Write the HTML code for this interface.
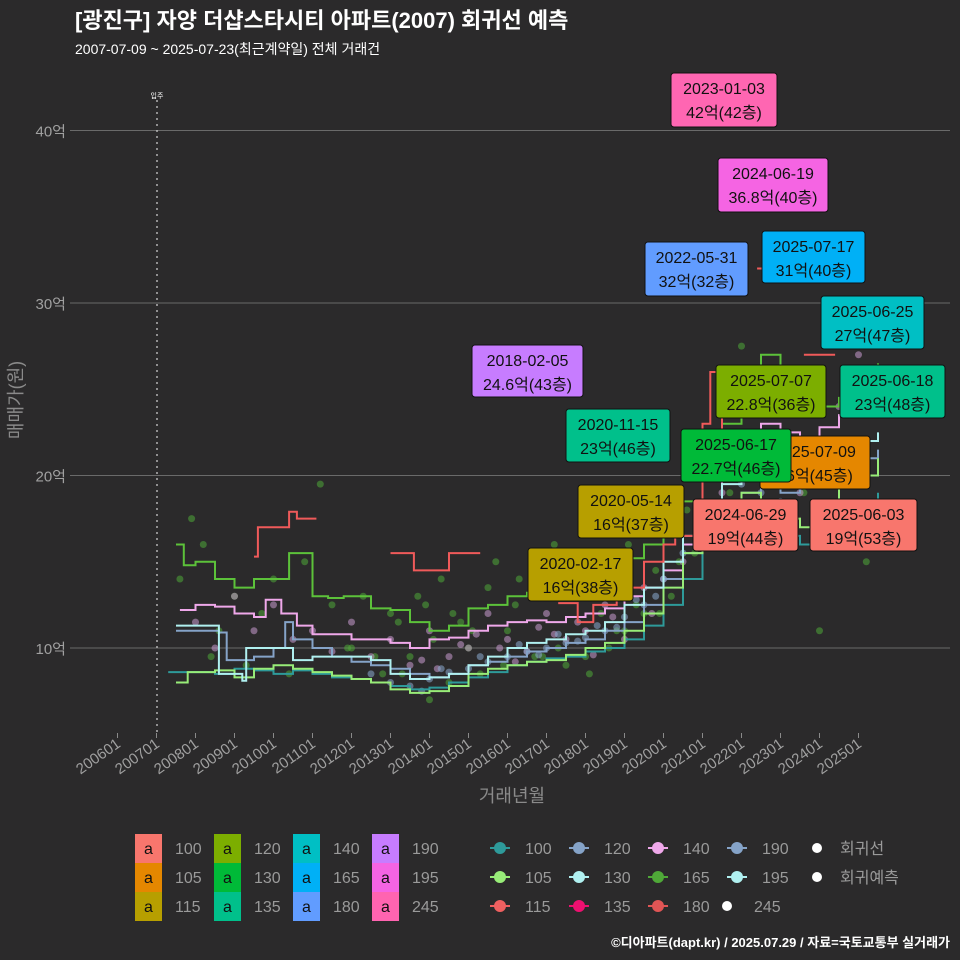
<!DOCTYPE html>
<html><head><meta charset="utf-8">
<style>
html,body{margin:0;padding:0;background:#2b2a2b;}
svg{display:block;font-family:"Liberation Sans","Noto Sans CJK KR",sans-serif;}
</style></head>
<body>
<svg id="chart" width="960" height="960" viewBox="0 0 960 960" xmlns="http://www.w3.org/2000/svg">
<rect x="0" y="0" width="960" height="960" fill="#2b2a2b"/>
<text x="75" y="28" fill="#ffffff" font-size="22" font-weight="bold">[광진구] 자양 더샵스타시티 아파트(2007) 회귀선 예측</text>
<text x="75" y="54" fill="#ffffff" font-size="14">2007-07-09 ~ 2025-07-23(최근계약일) 전체 거래건</text>
<g id="grid"></g>
<g id="axes"></g>
<g id="points"></g>
<g id="lines"></g>
<g id="labels"></g>
<text transform="translate(22,400) rotate(-90)" text-anchor="middle" fill="#8a8a8a" font-size="18">매매가(원)</text>
<text x="512" y="802" text-anchor="middle" fill="#8a8a8a" font-size="18">거래년월</text>
<g id="legend"></g>
<text x="950" y="947" text-anchor="end" fill="#ffffff" font-size="13" font-weight="bold">©디아파트(dapt.kr) / 2025.07.29 / 자료=국토교통부 실거래가</text>
</svg>
<script>
const yTicks=[10,20,30,40];
const yTickLabels=["10억","20억","30억","40억"];
const xTickYears=[2006,2007,2008,2009,2010,2011,2012,2013,2014,2015,2016,2017,2018,2019,2020,2021,2022,2023,2024,2025];
const xTickLabels=["200601","200701","200801","200901","201001","201101","201201","201301","201401","201501","201601","201701","201801","201901","202001","202101","202201","202301","202401","202501"];
const s165Years=[2007.5,2007.7,2008,2008.5,2009,2009.5,2010,2010.4,2010.7,2011,2011.4,2011.8,2012.5,2013,2013.5,2014,2014.5,2015,2015.5,2016,2016.5,2017,2017.5,2018,2018.5,2019,2019.5,2020,2020.5,2021,2021.5,2022,2022.5,2023,2023.5,2024,2024.5,2025,2025.5];
const s165Vals=[16,14.8,15,14,13.5,14,14,15.5,15.5,13,12.9,13,12.3,12.2,11.5,11,11.3,12.3,12.5,13,13.2,13.5,14,14.3,14.5,15.2,16,17,18.5,21,23,25,27,26,24,24,24.5,26,26.5];
const s140Years=[2007.6,2008,2008.5,2009,2009.5,2009.8,2010.2,2010.6,2011,2011.5,2012,2012.5,2013,2013.5,2014,2014.5,2015,2015.5,2016,2016.5,2017,2017.5,2018,2018.5,2019,2019.5,2020,2020.5,2021,2021.5,2022,2022.5,2023,2023.5,2024,2024.5,2025,2025.5];
const s140Vals=[12.2,12.5,12.4,12,11.8,12.8,12,11.3,10.8,10.8,10.5,10.5,10.3,10,10.5,10.6,11,11.3,11.5,11.6,11.5,11.8,12,12.3,13,13.5,14.5,16,18.5,20.5,22,23,22.5,22,22.8,23.5,25,26];
const s130Years=[2007.5,2008.5,2008.6,2009.2,2009.3,2009.5,2010,2010.5,2011,2011.5,2012,2012.5,2013,2013.5,2014,2014.5,2015,2015.5,2016,2016.5,2017,2017.5,2018,2018.5,2019,2019.5,2020,2020.5,2021,2021.5,2022,2022.5,2023,2023.5,2024,2024.5,2025,2025.5];
const s130Vals=[11.3,11.3,8.5,8.1,10,10,10,9.3,9.5,9.5,9.5,9.3,8.5,8.2,8.3,8.5,9,9.5,10,10.3,10.5,10.8,11,11.5,12.5,13.5,15,16.5,18,19.5,20,19.5,20,19.5,20.5,21,22,22.5];
const s120Years=[2007.5,2008.6,2008.8,2009.5,2010,2010.3,2010.5,2011,2011.5,2012,2012.5,2013,2013.5,2014,2014.5,2015,2015.5,2016,2016.5,2017,2017.5,2018,2018.5,2019,2019.5,2020,2020.5,2021,2021.5,2022,2022.5,2023,2023.5,2024,2024.5,2025,2025.5];
const s120Vals=[11,10.9,9.3,9.5,10,11.5,10.5,10,9.5,9.2,9,8.8,8.5,8.3,8.5,9,9.2,9.5,9.8,10,10.3,10.5,11,11.5,12.5,14,15.5,17,18,19,19.5,19,19.3,20,20.5,21,21.5];
const s105Years=[2007.5,2007.8,2008.5,2009,2009.5,2010,2010.5,2011,2011.5,2012,2012.5,2013,2013.5,2014,2014.5,2015,2015.5,2016,2016.5,2017,2017.5,2018,2018.5,2019,2019.5,2020,2020.5,2021,2021.5,2022,2022.5,2023,2023.5,2024,2024.5,2025,2025.5];
const s105Vals=[8,8.6,8.7,8.3,8.8,9,8.8,8.6,8.4,8.2,8,7.6,7.4,7.5,7.8,8.5,8.8,9,9.2,9.3,9.6,10,10.3,11,12,13.5,15.5,17,18.5,19,18,17.5,17,18.5,19.5,20,21];
const s100Years=[2007.3,2008,2008.5,2009,2009.5,2010,2010.5,2011,2011.5,2012,2012.5,2013,2013.5,2014,2014.5,2015,2015.5,2016,2016.5,2017,2017.5,2018,2018.5,2019,2019.5,2020,2020.5,2021,2021.5,2022,2022.5,2023,2023.5,2024,2024.5,2025,2025.5];
const s100Vals=[8.6,8.6,8.5,8.8,8.7,8.5,8.7,8.5,8.3,8.2,8,7.8,7.6,7.7,8,8.3,8.6,9,9.2,9.4,9.5,9.8,10,10.5,11.3,12.5,14,16,17,18,17.5,16.5,16,17,18,18.5,19];
const s115Years=[2009.5,2009.6,2009.7,2010.3,2010.4,2010.6,2011.1,null,2013,2013.4,2013.6,2014.2,2014.5,2015.3,null,2017.3,2017.8,2018.2,2018.8,2019.5,2020,2020.3,2020.8,2021,2021.2,2021.5,2021.8,2022.1,null,2022.4,2022.7,null,2023.6,2024.4];
const s115Vals=[15.3,17,17,17,17.9,17.5,17.5,null,15.5,15.5,14.5,14.5,15.5,15.5,null,12.6,11.5,12.5,13.5,15,16,16.5,17,23,26,21,21.5,22,null,32,32,null,27,27];
const ptsGreenYears=[2007.6,2007.9,2008.2,2008.4,2008.6,2009.0,2009.3,2009.7,2010.0,2010.4,2010.8,2011.2,2011.5,2011.9,2012.3,2012.6,2013.0,2013.3,2013.7,2014.0,2014.3,2014.6,2015.0,2015.3,2015.7,2016.0,2016.3,2016.7,2017.0,2017.3,2017.7,2018.0,2018.4,2018.8,2019.1,2019.5,2019.8,2020.2,2020.6,2021.0,2021.3,2021.7,2022.0,2022.4,2022.8,2023.2,2023.6,2024.0,2024.4,2024.8,2025.2,2014.1,2015.9,2017.2,2018.1,2019.3,2020.4,2013.2,2016.6,2012.0,2012.8,2013.5,2014.8,2015.5,2016.2,2017.5,2018.6,2019.0,2019.9,2020.8,2014.5,2015.1,2016.9,2018.9,2013.9];
const ptsGreenVals=[14,17.5,16,9.5,11,13,9,12,14,8.5,15,19.5,12.5,10,13,9.5,12,8.5,13,7,14,12,10,8.5,15,11,14,9.5,13,10,15,9.5,12,11,16,12,14.5,13,18,17,21,19,27.5,22,25,24,19,11,22,25,15,10.5,9,16,8.5,12.5,15,11.5,13,10,8.5,9.5,11.5,13.5,12.5,9,10,11,12,15.5,8,11,9.5,13,12.5];
const ptsPinkYears=[2008.0,2008.5,2009.0,2009.5,2010.0,2010.5,2011.0,2011.5,2012.0,2012.5,2013.0,2013.5,2014.0,2014.5,2015.0,2015.5,2016.0,2016.5,2017.0,2017.5,2018.0,2018.5,2019.0,2019.5,2020.0,2020.5,2021.0,2021.5,2022.0,2022.5,2023.0,2023.5,2024.0,2024.5,2025.0,2013.8,2015.2,2016.8,2018.2,2019.7,2014.8,2017.8,2016.2,2017.2,2018.7,2015.8,2014.2];
const ptsPinkVals=[11.5,10,13,11,12.5,10.5,11,9.8,11.5,9.5,10.5,9,11,9.5,10,12,10.5,9.8,12,10.5,11,12.5,10.5,13.5,14,15,17,19,22,21,20,19,22,24,27,9.3,10.8,11.2,9.6,12,10.2,11.5,9.2,10.8,11.8,10,8.8];
const ptsBlueYears=[2012.5,2013.0,2013.5,2014.0,2014.5,2015.0,2015.5,2016.0,2016.5,2017.0,2017.5,2018.0,2018.5,2019.0,2019.5,2020.0,2020.5,2021.0,2021.5,2022.0,2022.5,2023.0,2023.5,2024.0,2024.5,2013.8,2014.3,2015.3,2016.3,2017.3,2018.3,2019.3,2016.8,2017.8,2018.8,2019.8];
const ptsBlueVals=[8.5,8,7.8,8.2,8.6,8.8,9.2,9.5,9.8,10,10.3,10.6,11,11.8,12.5,14,15.5,17,18,19.5,19,18.5,19.5,20,21,7.5,8.8,9.5,10.2,10.8,11.3,12.8,9.6,10.4,11.2,13];

const X=y=>117.5+39*(y-2006);
const Y=v=>820.5-17.25*v;
const NS="http://www.w3.org/2000/svg";
function mk(tag,attrs,parent){const e=document.createElementNS(NS,tag);for(const k in attrs)e.setAttribute(k,attrs[k]);parent.appendChild(e);return e;}
const grid=document.getElementById('grid'),axes=document.getElementById('axes');
yTicks.forEach((t,i)=>{
  const l=mk('line',{x1:70,x2:950,y1:Y(t),y2:Y(t),stroke:'#6a6a6a','stroke-width':1},grid);
  
  
  const tx=mk('text',{x:66,y:Y(t)+6,'text-anchor':'end',fill:'#a0a0a0','font-size':15},axes);
  tx.textContent=yTickLabels[i];
  
  
});
xTickYears.forEach((t,i)=>{
  const l=mk('line',{x1:X(t),x2:X(t),y1:733,y2:738,stroke:'#8a8a8a'},axes);
  
  
  const tx=mk('text',{transform:`translate(${X(t)+4},746) rotate(-35)`,'text-anchor':'end',fill:'#a0a0a0','font-size':15},axes);
  tx.textContent=xTickLabels[i];
  
  
});
const mv=mk('line',{x1:157,x2:157,y1:100,y2:735,stroke:'#c8c8c8','stroke-dasharray':'2,4','stroke-width':1.3},grid);


const mvt=mk('text',{x:157,y:98,'text-anchor':'middle',fill:'#ffffff','font-size':7},grid);
mvt.textContent='입주';



const pts=document.getElementById('points');
function scatter(ys,vs,col){ys.forEach((y,i)=>{const c=mk('circle',{cx:X(y),cy:Y(vs[i]),r:3.5,fill:col,'fill-opacity':0.55},pts);});}
scatter(ptsGreenYears,ptsGreenVals,'#4fa838');
scatter(ptsPinkYears,ptsPinkVals,'#c89ad0');
scatter(ptsBlueYears,ptsBlueVals,'#8aaad0');

const lines=document.getElementById('lines');
function stepLine(ys,vs,col,name){
  let d='',start=true;
  ys.forEach((y,i)=>{
    if(y===null){start=true;return;}
    if(start){d+=`M${X(y)},${Y(vs[i])}`;start=false;}
    else{d+=`H${X(y)}V${Y(vs[i])}`;}
  });
  const p=mk('path',{d:d,fill:'none',stroke:col,'stroke-width':2},lines);
  
  
}
stepLine(s165Years,s165Vals,'#5cc23a','line-165');
stepLine(s140Years,s140Vals,'#efa8ea','line-140');
stepLine(s100Years,s100Vals,'#2e9a9a','line-100');
stepLine(s120Years,s120Vals,'#85a3c8','line-120');
stepLine(s105Years,s105Vals,'#98ec78','line-105');
stepLine(s130Years,s130Vals,'#b0f0f0','line-130');
stepLine(s115Years,s115Vals,'#f05a5a','line-115');

const labelDates=["2023-01-03","2024-06-19","2022-05-31","2025-07-17","2025-06-25","2018-02-05","2025-07-07","2025-06-18","2020-11-15","2025-07-09","2025-06-17","2020-05-14","2024-06-29","2025-06-03","2020-02-17"];
const labelTexts=["42억(42층)","36.8억(40층)","32억(32층)","31억(40층)","27억(47층)","24.6억(43층)","22.8억(36층)","23억(48층)","23억(46층)","16억(45층)","22.7억(46층)","16억(37층)","19억(44층)","19억(53층)","16억(38층)"];
const labelBoxes=[[671,73,106,54,'#ff66b2'],[718,158,110,54,'#f564e3'],[645,242,103,54,'#619cff'],[762,231,103,52,'#00b0f6'],[821,296,103,53,'#00bfc4'],[472,345,111,52,'#c77cff'],[716,365,110,53,'#7cae00'],[840,365,105,53,'#00c08b'],[566,409,104,53,'#00c08b'],[760,436,110,53,'#e58700'],[681,429,110,53,'#00ba38'],[578,485,106,53,'#b79f00'],[693,499,105,52,'#f8766d'],[810,499,107,52,'#f8766d'],[528,548,105,53,'#b79f00']];
const lab=document.getElementById('labels');
labelBoxes.forEach((b,i)=>{
  const g=mk('g',{},lab);
  
  
  mk('rect',{x:b[0],y:b[1],width:b[2],height:b[3],rx:3,fill:b[4],stroke:'#111','stroke-width':1},g);
  const t1=mk('text',{x:b[0]+b[2]/2,y:b[1]+21,'text-anchor':'middle',fill:'#111','font-size':16},g);t1.textContent=labelDates[i];
  const t2=mk('text',{x:b[0]+b[2]/2,y:b[1]+45,'text-anchor':'middle',fill:'#111','font-size':16},g);t2.textContent=labelTexts[i];
});

const leg=document.getElementById('legend');
const fillNames=["100","105","115","120","130","135","140","165","180","190","195","245"];
const fillCols=['#f8766d','#e58700','#b79f00','#7cae00','#00ba38','#00c08b','#00bfc4','#00b0f6','#619cff','#c77cff','#f564e3','#ff64b0'];
fillNames.forEach((n,i)=>{
  const col=Math.floor(i/3),row=i%3;const x=135+col*79,y=834+row*29;
  const g=mk('g',{},leg);
  
  
  mk('rect',{x:x,y:y,width:27,height:29,fill:fillCols[i]},g);
  const a=mk('text',{x:x+13.5,y:y+20,'text-anchor':'middle',fill:'#111','font-size':16},g);a.textContent='a';
  const t=mk('text',{x:x+40,y:y+20,fill:'#9a9a9a','font-size':16},g);t.textContent=n;
});
const symNames=["100","105","115","120","130","135","140","165","180","190","195","245","회귀선","회귀예측"];
const symCols=['#2e9a9a','#98ec78','#f06060','#85a3c8','#b0f0f0','#ee1070','#efa8ea','#4fa838','#e05555','#85a3c8','#b0f0f0','#ffffff','#ffffff','#ffffff'];
symNames.forEach((n,i)=>{
  let col,row;
  if(i<12){col=Math.floor(i/3);row=i%3;}else{col=4;row=i-12;}
  const x=500+col*79,y=848+row*29;
  const g=mk('g',{},leg);
  
  
  if(i<11) mk('line',{x1:x-10,x2:x+10,y1:y,y2:y,stroke:symCols[i],'stroke-width':2},g);
  const cx=i==11?x-10:(i>=12?817:x);
  mk('circle',{cx:cx,cy:y,r:i<11?6:5,fill:symCols[i]},g);
  const lx=i==11?x+17:(i>=12?840:x+25);
  const t=mk('text',{x:lx,y:y+6,fill:'#9a9a9a','font-size':16},g);t.textContent=n;
});
</script>
</body></html>
